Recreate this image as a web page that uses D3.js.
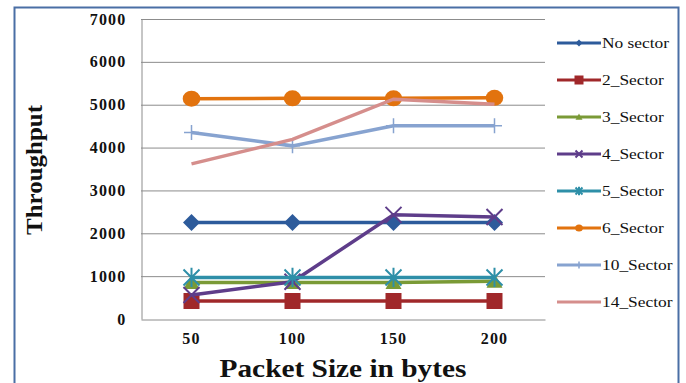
<!DOCTYPE html>
<html>
<head>
<meta charset="utf-8">
<script src="https://cdn.jsdelivr.net/npm/d3@7"></script>
<style>
  html, body { margin: 0; padding: 0; background: #fff; }
  svg { display: block; }
  svg text { font-family: 'Liberation Serif', 'Times New Roman', serif; }
</style>
</head>
<body>
<svg id="chart" width="686" height="383"></svg>
<script>
// Packet sizes (x categories) and y ticks
const packetSizes = ["50", "100", "150", "200"];
const yTicks = [0, 1000, 2000, 3000, 4000, 5000, 6000, 7000];

// Throughput per sector configuration
const noSector  = [2250, 2250, 2250, 2250];
const sector2   = [420, 420, 420, 420];
const sector3   = [850, 850, 850, 880];
const sector4   = [560, 870, 2430, 2380];
const sector5   = [970, 970, 970, 970];
const sector6   = [5140, 5150, 5150, 5160];
const sector10  = [4350, 4040, 4510, 4510];
const sector14  = [3620, 4190, 5130, 5010];

const seriesNames = ["No sector", "2_Sector", "3_Sector", "4_Sector", "5_Sector", "6_Sector", "10_Sector", "14_Sector"];
const seriesColors = ["#2D5B9B", "#A0282A", "#7A9A36", "#5E3D8A", "#2E8FA8", "#E2730E", "#87A3D0", "#D58E8C"];
const seriesMarkers = ["diamond", "square", "triangle", "x", "asterisk", "circle", "plus", "none"];
const seriesValues = [noSector, sector2, sector3, sector4, sector5, sector6, sector10, sector14];

const series = seriesNames.map((name, i) => ({
  name, color: seriesColors[i], marker: seriesMarkers[i], values: seriesValues[i]
}));

const serif = "'Liberation Serif', 'Times New Roman', serif";
const svg = d3.select("#chart");

// outer frame
svg.append("path")
  .attr("d", "M14.5,383 V7.5 H678.5 V383")
  .attr("fill", "none").attr("stroke", "#4a6fa5").attr("stroke-width", 2);

const plot = { left: 141, right: 545, top: 19, bottom: 319 };

const x = d3.scaleBand().domain(packetSizes).range([plot.left, plot.right]);
const y = d3.scaleLinear().domain([0, 7000]).range([plot.bottom, plot.top]);

// horizontal gridlines
svg.append("g").selectAll("line").data(yTicks.filter(d => d > 0)).join("line")
  .attr("x1", plot.left).attr("x2", plot.right)
  .attr("y1", d => y(d) + 0.5).attr("y2", d => y(d) + 0.5)
  .attr("stroke", "#8c8c8c").attr("stroke-width", 1);

// y axis
const yAxis = svg.append("g").attr("transform", `translate(${plot.left + 0.5},0)`)
  .call(d3.axisLeft(y).tickValues(yTicks).tickFormat(d3.format("d")).tickSize(0).tickPadding(15));
yAxis.attr("font-family", null);
yAxis.select(".domain").attr("stroke", "#8c8c8c");
yAxis.selectAll("text")
  .style("font-family", serif)
  .attr("font-weight", "bold").attr("font-size", 16).attr("letter-spacing", 1.2).attr("fill", "#111");

// x axis
const xAxis = svg.append("g").attr("transform", `translate(0,${plot.bottom + 0.5})`)
  .call(d3.axisBottom(x).tickSize(0).tickPadding(13));
xAxis.attr("font-family", null);
xAxis.select(".domain").attr("stroke", "#8c8c8c");
xAxis.selectAll("text")
  .style("font-family", serif)
  .attr("font-weight", "bold").attr("font-size", 16).attr("letter-spacing", 1.2).attr("fill", "#111");

// axis titles
svg.append("text")
  .attr("transform", "translate(42,170) rotate(-90)")
  .attr("text-anchor", "middle")
  .style("font-family", serif)
  .attr("font-weight", "bold").attr("font-size", 23).attr("fill", "#111")
  .attr("textLength", 130).attr("lengthAdjust", "spacingAndGlyphs")
  .text("Throughput");

svg.append("text")
  .attr("x", 343).attr("y", 377)
  .attr("text-anchor", "middle")
  .style("font-family", serif)
  .attr("font-weight", "bold").attr("font-size", 26).attr("fill", "#111")
  .attr("textLength", 247).attr("lengthAdjust", "spacingAndGlyphs")
  .text("Packet Size in bytes");

const cx = d => x(d) + x.bandwidth() / 2;

function drawMarker(g, type, color, s) {
  // s = half size
  switch (type) {
    case "diamond":
      g.append("path").attr("d", `M0,${-s} L${s},0 L0,${s} L${-s},0 Z`).attr("fill", color);
      break;
    case "square":
      g.append("rect").attr("x", -s).attr("y", -s).attr("width", 2 * s).attr("height", 2 * s).attr("fill", color);
      break;
    case "triangle":
      g.append("path").attr("d", `M0,${-s} L${s},${s * 0.8} L${-s},${s * 0.8} Z`).attr("fill", color);
      break;
    case "circle":
      g.append("ellipse").attr("rx", s * 1.1).attr("ry", s).attr("fill", color);
      break;
    case "x":
      g.append("path").attr("d", `M${-s},${-s} L${s},${s} M${-s},${s} L${s},${-s}`)
        .attr("stroke", color).attr("stroke-width", 2);
      break;
    case "asterisk":
      g.append("path").attr("d", `M${-s},${-s} L${s},${s} M${-s},${s} L${s},${-s} M0,${-s * 1.2} L0,${s * 1.2}`)
        .attr("stroke", color).attr("stroke-width", 2);
      break;
    case "plus":
      g.append("path").attr("d", `M${-s},0 L${s},0 M0,${-s} L0,${s}`)
        .attr("stroke", color).attr("stroke-width", 1.5);
      break;
  }
}

const markerSize = { diamond: 8.5, square: 8, triangle: 8, x: 8, asterisk: 8, circle: 8, plus: 7.5 };

const line = d3.line().x((d, i) => cx(packetSizes[i])).y(d => y(d));

// draw series in legend order, later ones on top
series.forEach(s => {
  const g = svg.append("g");
  g.append("path").datum(s.values)
    .attr("d", line).attr("fill", "none")
    .attr("stroke", s.color).attr("stroke-width", 3.5);
  s.values.forEach((v, i) => {
    const m = g.append("g").attr("transform", `translate(${cx(packetSizes[i])},${y(v)})`);
    drawMarker(m, s.marker, s.color, markerSize[s.marker] || 0);
  });
});

// legend
const legend = svg.append("g");
series.forEach((s, i) => {
  const ly = 43 + i * 37;
  const lg = legend.append("g").attr("transform", `translate(0,${ly})`);
  lg.append("line").attr("x1", 557).attr("x2", 601).attr("y1", 0).attr("y2", 0)
    .attr("stroke", s.color).attr("stroke-width", 3);
  const m = lg.append("g").attr("transform", "translate(579,0)");
  drawMarker(m, s.marker, s.color, s.marker === "square" ? 4.5 : 3.5);
  lg.append("text").attr("transform", `translate(602,5) scale(1.2,1)`)
    .style("font-family", serif)
    .attr("font-size", 14.5).attr("fill", "#111")
    .text(s.name);
});
</script>
</body>
</html>
